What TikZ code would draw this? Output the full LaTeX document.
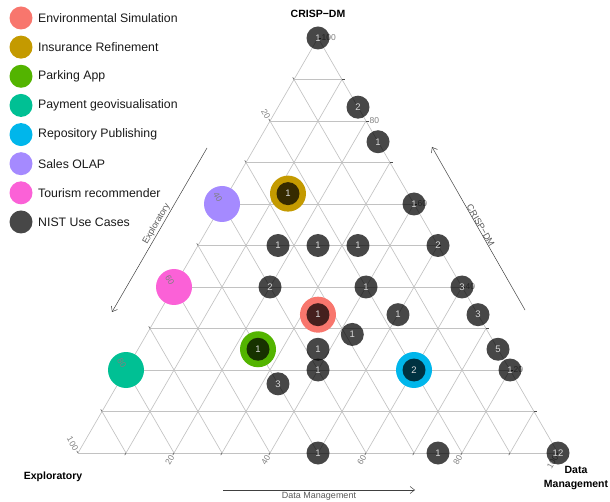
\documentclass[tikz,border=0pt]{standalone}
\usepackage{fontspec}
\setmainfont{Liberation Sans}
\usetikzlibrary{arrows.meta}
\definecolor{envsim}{HTML}{F8766D}
\definecolor{insref}{HTML}{C49A00}
\definecolor{parkapp}{HTML}{53B400}
\definecolor{paygeo}{HTML}{00C094}
\definecolor{repopub}{HTML}{00B6EB}
\definecolor{salesolap}{HTML}{A58AFF}
\definecolor{tourrec}{HTML}{FB61D7}
\definecolor{nist}{HTML}{474747}
\begin{document}
\begin{tikzpicture}[x=1pt,y=-1pt,
  gridline/.style={draw=black!24, line width=0.65pt},
  tickmark/.style={draw=black!70, line width=0.5pt},
  ticklabel/.style={text=black!50, font=\fontsize{8.5}{10}\selectfont, inner sep=0.5pt},
  project/.style={circle, minimum size=36pt, inner sep=0pt},
  usecase/.style={circle, minimum size=23pt, inner sep=0pt, fill=black, fill opacity=0.72,
    text opacity=1, text=white!85!black, font=\fontsize{9.5}{11}\selectfont},
  legdot/.style={circle, minimum size=23pt, inner sep=0pt},
  legtext/.style={anchor=west, inner sep=0pt, text=black!90, font=\fontsize{12.3}{14}\selectfont},
  axisarrow/.style={draw=black!75, line width=0.5pt, -{Straight Barb[length=4.5pt,width=7pt]}},
  axislabel/.style={text=black!65, font=\fontsize{9}{10}\selectfont, inner sep=1.5pt},
  corner/.style={font=\fontsize{10.5}{14.5}\selectfont\bfseries, align=center, inner sep=0pt}]
\useasboundingbox (0,0) rectangle (610,502);

% ternary part: (Data Management, CRISP-DM) in percent
\begin{scope}[shift={(78,453)}, x={(4.8pt,0pt)}, y={(2.4pt,4.15pt)}]
\foreach \k in {0,10,...,90}{
  \draw[gridline] (\k,0) -- (\k,100-\k);
  \draw[gridline] (0,\k) -- (100-\k,\k);
  \draw[gridline] (100-\k,0) -- (0,100-\k);
}
\foreach \k in {10,20,...,100}{
  \draw[tickmark] (0,100-\k) -- ++(120:2.5pt);
  \draw[tickmark] (\k,0) -- ++(240:2.5pt);
  \draw[tickmark] (100-\k,\k) -- ++(0:2.5pt);
}

\foreach \d/\c/\col/\nm in {33.33/33.33/envsim/env, 12.5/62.5/insref/ins, 25/25/parkapp/park,
    0/20/paygeo/pay, 60/20/repopub/repo, 0/60/salesolap/sales, 0/40/tourrec/tour}{
  \node[project, fill=\col] (p\nm) at (\d,\c) {};
}

\foreach \k in {20,40,...,100}{
  \path (0,100-\k) ++(120:3pt) node[ticklabel, rotate=-60, anchor=east] (le\k) {\k};
  \path (\k,0) ++(240:3pt) node[ticklabel, rotate=60, anchor=east] (bo\k) {\k};
  \path (100-\k,\k) ++(0:3pt) node[ticklabel, anchor=west] (ri\k) {\k};
}

\foreach \d/\c/\n [count=\i] in {0/100/1, 16.67/83.33/2, 25/75/1, 12.5/62.5/1, 40/60/1,
    16.67/50/1, 25/50/1, 33.33/50/1, 50/50/2, 20/40/2, 40/40/1, 60/40/3,
    33.33/33.33/1, 50/33.33/1, 66.67/33.33/3, 42.86/28.57/1, 25/25/1, 37.5/25/1, 75/25/5,
    40/20/1, 60/20/2, 80/20/1, 33.33/16.67/3, 50/0/1, 75/0/1, 100/0/12}{
  \node[usecase] (u\i) at (\d,\c) {\n};
}
\end{scope}

\coordinate (exptop) at (207,148);
\coordinate (expbot) at (112,312);
\draw[axisarrow] (exptop) -- (expbot);
\node[axislabel, rotate=60, anchor=south] (explab) at (161.5,227) {Exploratory};

\coordinate (crisptop) at (432,147);
\coordinate (crispbot) at (525,310);
\draw[axisarrow] (crispbot) -- (crisptop);
\node[axislabel, rotate=-60, anchor=south] (crisplab) at (476.5,228) {CRISP−DM};

\coordinate (dmleft) at (223,490);
\coordinate (dmright) at (415,490);
\draw[axisarrow] (dmleft) -- (dmright);
\node[axislabel, anchor=north] (dmlab) at (319,491) {Data Management};

\node[corner] (topname) at (318,14) {CRISP−DM};
\node[corner] (leftname) at (53,477) {Exploratory};
\node[corner] (rightname) at (576,478) {Data\\Management};

\foreach \col/\name [count=\i] in {envsim/Environmental Simulation, insref/Insurance Refinement,
    parkapp/Parking App, paygeo/Payment geovisualisation, repopub/Repository Publishing,
    salesolap/Sales OLAP, tourrec/Tourism recommender, nist/NIST Use Cases}{
  \node[legdot, fill=\col] (dot\i) at (21,{18+29.14*(\i-1)}) {};
  \node[legtext] (name\i) at (38,{18+29.14*(\i-1)}) {\name};
}
\end{tikzpicture}
\end{document}
